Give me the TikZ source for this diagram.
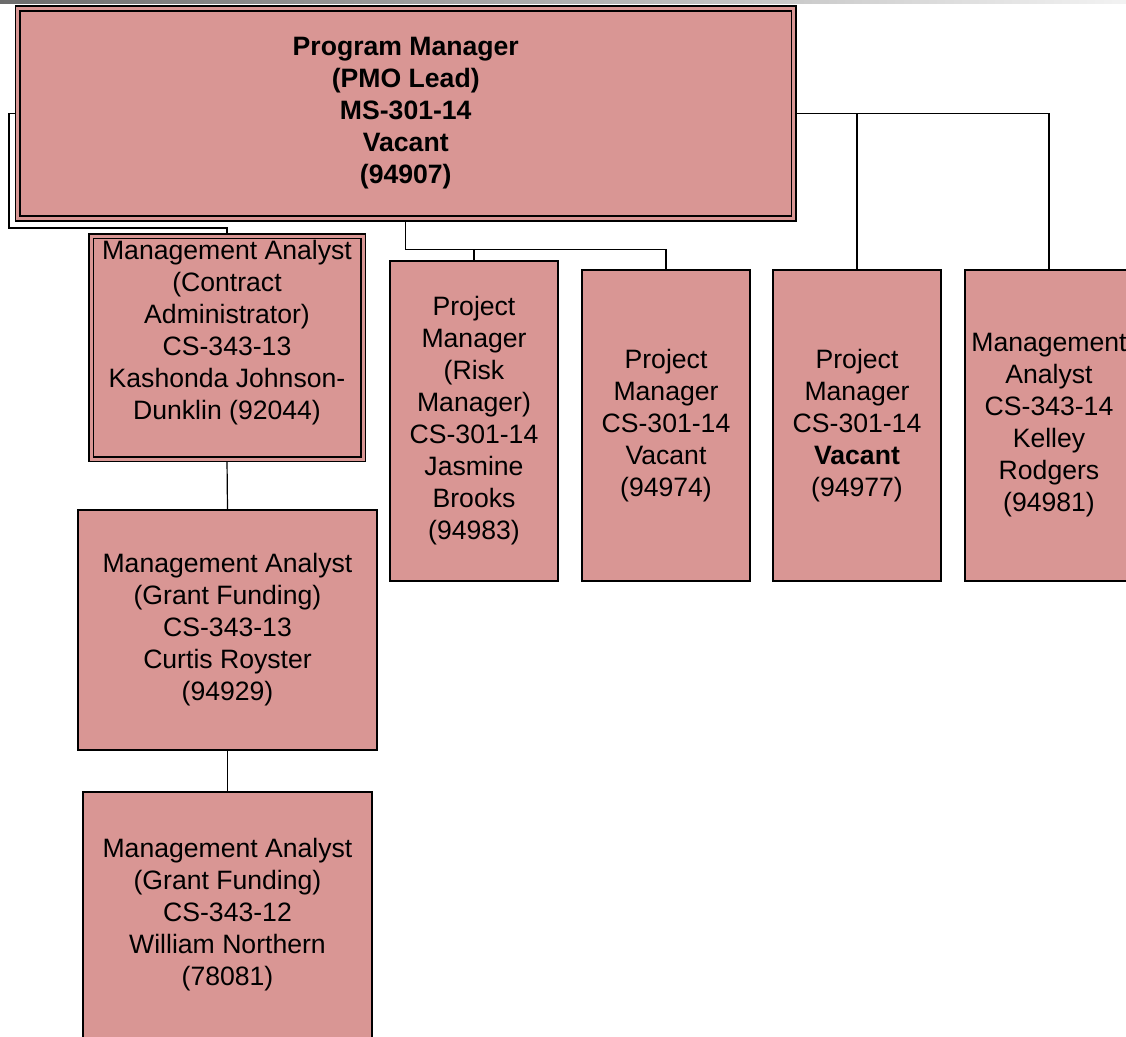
\documentclass[tikz,border=0pt]{standalone}
\usepackage{fontspec}
\setmainfont{Liberation Sans}
\usetikzlibrary{backgrounds}
\definecolor{rosebox}{HTML}{D99694}

\begin{document}
\begin{tikzpicture}
	[x=1pt,y=-1pt,
	post/.style={rectangle,draw=black,fill=rosebox,line width=1.7pt,inner sep=0pt,outer sep=0pt,
		align=center,font=\fontsize{26.6}{32}\selectfont,execute at begin node={\rule{0pt}{24pt}}},
	lead/.style={post,double=rosebox,double distance=3pt,line width=1.7pt},
	link/.style={draw=black,line width=1.2pt}
	]
	\useasboundingbox (0,0) rectangle (1126,1036);
	\clip (0,0) rectangle (1126,1036);
	\shade[left color=black!58,right color=black!5] (0,0) rectangle (1126,3);
	% top of the chart
	\node[lead,minimum width=776pt,minimum height=210pt,font=\fontsize{26.6}{32}\selectfont\bfseries] (pm) at (405.75,113.5)
		{Program Manager\\(PMO Lead)\\MS-301-14\\Vacant\\(94907)};
	% left branch
	\node[lead,minimum width=272pt,minimum height=223pt] (ma1) at (227,347.5)
		{Management Analyst\\(Contract\\Administrator)\\CS-343-13\\Kashonda Johnson-\\Dunklin (92044)\rule[-36pt]{0pt}{0pt}};
	\node[post,minimum width=299pt,minimum height=240pt] (grant1) at (227.5,630)
		{Management Analyst\\(Grant Funding)\\CS-343-13\\Curtis Royster\\(94929)};
	\node[post,minimum width=289pt,minimum height=246pt] (grant2) at (227.5,915)
		{Management Analyst\\(Grant Funding)\\CS-343-12\\William Northern\\(78081)};
	% row of direct reports
	\node[post,minimum width=168pt,minimum height=320pt] (risk) at (474,421)
		{Project\\Manager\\(Risk\\Manager)\\CS-301-14\\Jasmine\\Brooks\\(94983)};
	\node[post,minimum width=168pt,minimum height=311pt] (pmb) at (666,425.5)
		{Project\\Manager\\CS-301-14\\Vacant\\(94974)};
	\node[post,minimum width=168pt,minimum height=311pt] (pmc) at (857,425.5)
		{Project\\Manager\\CS-301-14\\\textbf{Vacant}\\(94977)};
	\node[post,minimum width=168pt,minimum height=311pt] (kelley) at (1049,425.5)
		{Management\\Analyst\\CS-343-14\\Kelley\\Rodgers\\(94981)};
	\coordinate (bus) at ([yshift=-31pt]pm.south);
	\begin{scope}[on background layer]
		\draw[link] (pm.west) -- ++(-8.7,0) |- ([yshift=8pt]ma1.north) -- (ma1.north);
		\draw[link] (ma1.south) -- (grant1.north);
		\draw[link] (grant1.south) -- (grant2.north);
		\draw[link] (pm.south) -- (bus) -| (pmb.north);
		\draw[link] (risk.north) -- (risk.north |- bus);
		\draw[link] (pm.east) -| (pmc.north);
		\draw[link] (pm.east) -| (kelley.north);
	\end{scope}
\end{tikzpicture}
\end{document}
